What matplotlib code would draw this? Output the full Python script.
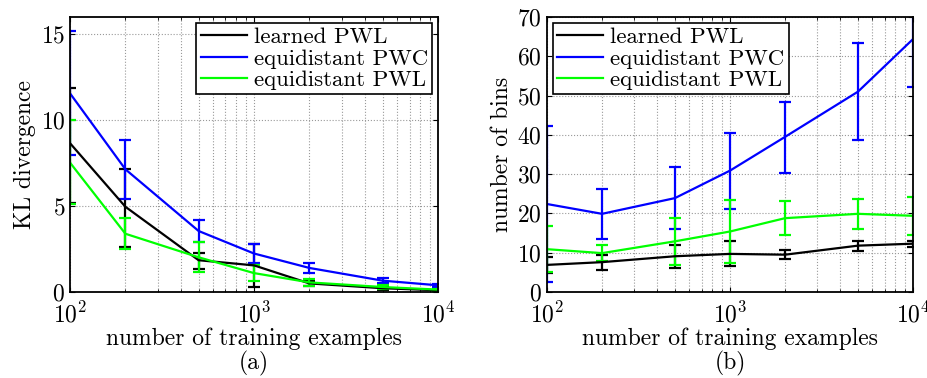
import matplotlib
matplotlib.use("Agg")
import matplotlib.pyplot as plt
from matplotlib.lines import Line2D
import numpy as np

plt.rcParams['font.family'] = 'serif'
plt.rcParams['font.serif'] = ['cmr10']
plt.rcParams['mathtext.fontset'] = 'cm'
plt.rcParams['axes.formatter.use_mathtext'] = True
plt.rcParams['axes.unicode_minus'] = False

n_train = np.array([100, 200, 500, 1000, 2000, 5000, 10000])

# (a) KL divergence: mean, lower error, upper error
kl_learned = np.array([8.66, 4.96, 1.85, 1.55, 0.50, 0.22, 0.10])
kl_learned_lo = np.array([3.5, 2.35, 0.5, 1.28, 0.15, 0.08, 0.05])
kl_learned_hi = np.array([3.2, 2.2, 0.43, 1.25, 0.15, 0.08, 0.05])
kl_pwc = np.array([11.56, 7.14, 3.55, 2.24, 1.40, 0.66, 0.39])
kl_pwc_lo = np.array([3.6, 1.75, 0.65, 0.55, 0.30, 0.15, 0.1])
kl_pwc_hi = np.array([3.6, 1.7, 0.65, 0.55, 0.30, 0.15, 0.1])
kl_pwl = np.array([7.53, 3.39, 2.02, 1.10, 0.56, 0.29, 0.14])
kl_pwl_lo = np.array([2.4, 0.88, 0.87, 0.48, 0.2, 0.1, 0.06])
kl_pwl_hi = np.array([2.45, 0.93, 0.88, 0.46, 0.2, 0.1, 0.06])

# (b) number of bins
bins_learned = np.array([6.9, 7.6, 9.1, 9.7, 9.5, 11.8, 12.3])
bins_learned_lo = np.array([2.0, 1.9, 3.0, 3.2, 1.0, 1.3, 0.9])
bins_learned_hi = np.array([2.0, 1.9, 2.9, 3.4, 1.25, 1.3, 0.8])
bins_pwc = np.array([22.4, 19.9, 23.9, 30.9, 39.5, 51.0, 64.4])
bins_pwc_lo = np.array([19.9, 6.3, 7.8, 9.7, 9.1, 12.3, 12.2])
bins_pwc_hi = np.array([19.9, 6.3, 7.8, 9.7, 8.9, 12.3, 12.2])
bins_pwl = np.array([10.9, 9.9, 12.9, 15.4, 18.8, 19.9, 19.4])
bins_pwl_lo = np.array([5.9, 2.1, 6.0, 8.0, 4.2, 3.9, 4.8])
bins_pwl_hi = np.array([5.8, 2.1, 5.9, 8.1, 4.3, 3.9, 4.7])

labels = ['learned PWL', 'equidistant PWC', 'equidistant PWL']
colors = ['k', 'b', '#00ff00']

fig = plt.figure(figsize=(9.27, 3.78), dpi=100)
ax1 = fig.add_axes([0.0755, 0.2275, 0.397, 0.7275])
ax2 = fig.add_axes([0.590, 0.2275, 0.395, 0.7275])

def draw(ax, series, ylim, yticks, ylabel, legend_loc):
    for (y, lo, hi), c in zip(series, colors):
        ax.errorbar(n_train, y, yerr=[lo, hi], color=c, lw=1.6, elinewidth=1.6,
                    capsize=4.5, capthick=1.6)
    ax.set_xscale('log')
    ax.set_xlim(100, 10000)
    ax.set_ylim(*ylim)
    ax.set_yticks(yticks)
    ax.grid(True, which='both', axis='x', ls=':', color='#999999', lw=0.8)
    ax.grid(True, which='major', axis='y', ls=':', color='#999999', lw=0.8)
    ax.tick_params(which='both', direction='in', labelsize=17, top=True, right=True)
    ax.tick_params(axis='x', pad=7)
    for s in ax.spines.values():
        s.set_linewidth(1.3)
    ax.set_xlabel('number of training examples', fontsize=17, labelpad=0)
    ax.set_ylabel(ylabel, fontsize=17, labelpad=3)
    handles = [Line2D([], [], color=c, lw=1.6) for c in colors]
    leg = ax.legend(handles, labels, loc=legend_loc, fontsize=16.5, fancybox=False,
                    framealpha=1, edgecolor='k', handlelength=2.0, handletextpad=0.3,
                    borderpad=0.2, labelspacing=0.05, borderaxespad=0.25)
    leg.get_frame().set_linewidth(1.2)

draw(ax1, [(kl_learned, kl_learned_lo, kl_learned_hi),
           (kl_pwc, kl_pwc_lo, kl_pwc_hi),
           (kl_pwl, kl_pwl_lo, kl_pwl_hi)],
     (0, 16), [0, 5, 10, 15], 'KL divergence', 'upper right')
draw(ax2, [(bins_learned, bins_learned_lo, bins_learned_hi),
           (bins_pwc, bins_pwc_lo, bins_pwc_hi),
           (bins_pwl, bins_pwl_lo, bins_pwl_hi)],
     (0, 70), [0, 10, 20, 30, 40, 50, 60, 70], 'number of bins', 'upper left')

fig.text(0.0755 + 0.397 / 2, 0.022, '(a)', ha='center', fontsize=17)
fig.text(0.590 + 0.395 / 2, 0.022, '(b)', ha='center', fontsize=17)

fig.savefig('out.png', dpi=100)
